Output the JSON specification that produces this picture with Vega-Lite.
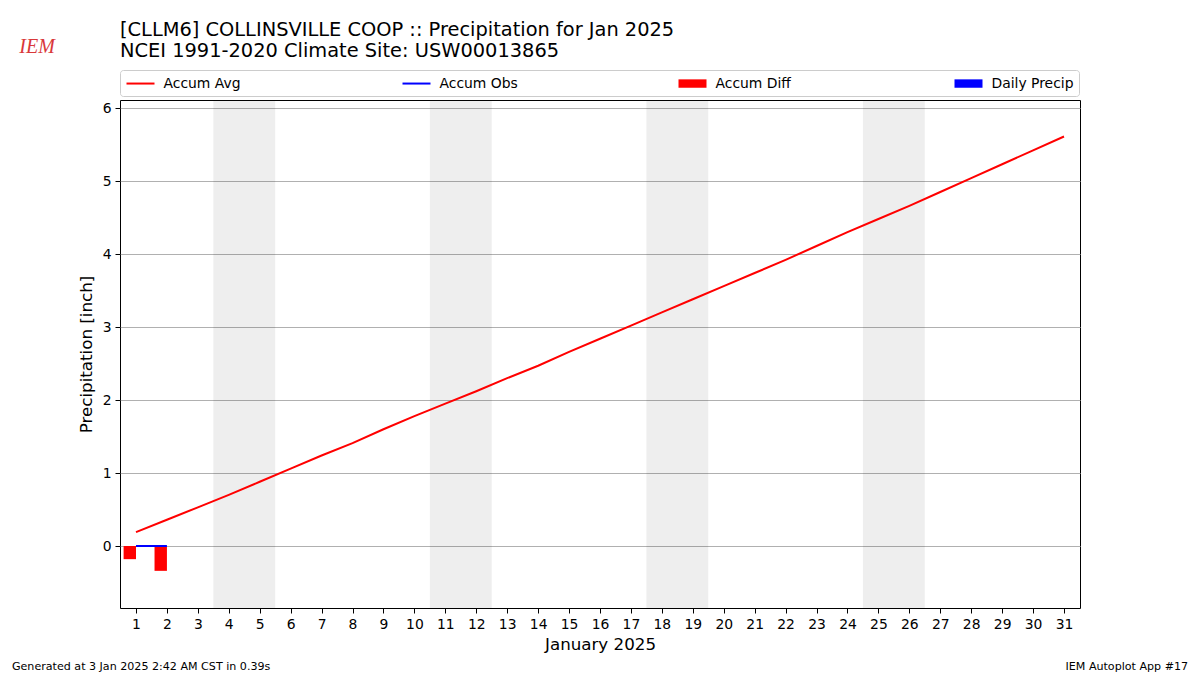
{
  "$schema": "https://vega.github.io/schema/vega-lite/v6.json",
  "autosize": {"type": "none"},
  "padding": {"left": 120, "top": 100, "right": 120, "bottom": 67},
  "width": 960,
  "height": 508,
  "background": "white",
  "title": {
    "text": ["[CLLM6] COLLINSVILLE COOP :: Precipitation for Jan 2025", "NCEI 1991-2020 Climate Site: USW00013865"],
    "anchor": "start",
    "frame": "group",
    "font": "DejaVu Sans",
    "fontSize": 19.4,
    "fontWeight": "normal",
    "color": "black",
    "lineHeight": 21.5,
    "offset": 7,
    "dy": 32
  },
  "config": {
    "view": {"stroke": "black", "strokeWidth": 1},
    "axis": {
      "labelFont": "DejaVu Sans",
      "labelFontSize": 13.9,
      "labelColor": "black",
      "titleFont": "DejaVu Sans",
      "titleFontSize": 16.7,
      "titleFontWeight": "normal",
      "titleColor": "black",
      "tickColor": "black",
      "tickSize": 5,
      "domain": false
    },
    "legend": {
      "labelFont": "DejaVu Sans",
      "labelFontSize": 13.9,
      "labelColor": "black"
    }
  },
  "datasets": {
    "daily": [
      {"day": 1, "accum_avg": 0.19},
      {"day": 2, "accum_avg": 0.36},
      {"day": 3, "accum_avg": 0.53},
      {"day": 4, "accum_avg": 0.70},
      {"day": 5, "accum_avg": 0.88},
      {"day": 6, "accum_avg": 1.06},
      {"day": 7, "accum_avg": 1.24},
      {"day": 8, "accum_avg": 1.41},
      {"day": 9, "accum_avg": 1.60},
      {"day": 10, "accum_avg": 1.78},
      {"day": 11, "accum_avg": 1.95},
      {"day": 12, "accum_avg": 2.12},
      {"day": 13, "accum_avg": 2.30},
      {"day": 14, "accum_avg": 2.47},
      {"day": 15, "accum_avg": 2.66},
      {"day": 16, "accum_avg": 2.84},
      {"day": 17, "accum_avg": 3.02},
      {"day": 18, "accum_avg": 3.20},
      {"day": 19, "accum_avg": 3.38},
      {"day": 20, "accum_avg": 3.56},
      {"day": 21, "accum_avg": 3.74},
      {"day": 22, "accum_avg": 3.92},
      {"day": 23, "accum_avg": 4.11},
      {"day": 24, "accum_avg": 4.30},
      {"day": 25, "accum_avg": 4.48},
      {"day": 26, "accum_avg": 4.66},
      {"day": 27, "accum_avg": 4.85},
      {"day": 28, "accum_avg": 5.04},
      {"day": 29, "accum_avg": 5.23},
      {"day": 30, "accum_avg": 5.42},
      {"day": 31, "accum_avg": 5.61}
    ],
    "obs": [
      {"day": 1, "accum_obs": 0, "accum_diff": -0.18, "daily_precip": 0},
      {"day": 2, "accum_obs": 0, "accum_diff": -0.34, "daily_precip": 0}
    ],
    "weekends": [
      {"start": 3.5, "end": 5.5},
      {"start": 10.5, "end": 12.5},
      {"start": 17.5, "end": 19.5},
      {"start": 24.5, "end": 26.5}
    ],
    "legend": [
      {"series": "Accum Avg", "day": 15, "value": -5},
      {"series": "Accum Obs", "day": 15, "value": -5},
      {"series": "Accum Diff", "day": 15, "value": -5},
      {"series": "Daily Precip", "day": 15, "value": -5}
    ],
    "notes": [
      {"label": "Generated at 3 Jan 2025 2:42 AM CST in 0.39s", "day": -3.01, "value": -1.70, "side": "left"},
      {"label": "IEM Autoplot App #17", "day": 35.01, "value": -1.70, "side": "right"},
      {"label": "IEM", "day": -2.77, "value": 6.76, "side": "logo"}
    ]
  },
  "encoding": {
    "x": {
      "field": "day",
      "type": "quantitative",
      "scale": {"domain": [0.483, 31.517], "nice": false, "zero": false, "padding": 0},
      "axis": {
        "title": "January 2025",
        "values": [1,2,3,4,5,6,7,8,9,10,11,12,13,14,15,16,17,18,19,20,21,22,23,24,25,26,27,28,29,30,31],
        "grid": false,
        "labelPadding": 4,
        "titlePadding": 6,
        "labelFlush": false,
        "labelOverlap": false
      }
    }
  },
  "layer": [
    {
      "data": {"name": "weekends"},
      "mark": {"type": "rect", "color": "black", "opacity": 0.067},
      "encoding": {
        "x": {"field": "start", "type": "quantitative"},
        "x2": {"field": "end"}
      }
    },
    {
      "data": {"name": "obs"},
      "mark": {"type": "bar", "color": "red", "width": 12.4, "xOffset": -6.2},
      "encoding": {
        "y": {
          "field": "accum_diff",
          "type": "quantitative",
          "scale": {"domain": [-0.849, 6.11], "nice": false, "zero": false, "padding": 0},
          "axis": {
            "title": "Precipitation [inch]",
            "values": [0,1,2,3,4,5,6],
            "format": "d",
            "grid": true,
            "gridColor": "#b0b0b0",
            "gridWidth": 1,
            "labelPadding": 4,
            "titlePadding": 7
          }
        },
        "y2": {"datum": 0}
      }
    },
    {
      "data": {"name": "obs"},
      "mark": {"type": "bar", "color": "blue", "width": 12.4, "xOffset": 6.2},
      "encoding": {
        "y": {"field": "daily_precip", "type": "quantitative"},
        "y2": {"datum": 0}
      }
    },
    {
      "data": {"name": "daily"},
      "mark": {"type": "line", "color": "red", "strokeWidth": 2},
      "encoding": {
        "y": {"field": "accum_avg", "type": "quantitative"}
      }
    },
    {
      "data": {"name": "obs"},
      "mark": {"type": "line", "color": "blue", "strokeWidth": 2},
      "encoding": {
        "y": {"field": "accum_obs", "type": "quantitative"}
      }
    },
    {
      "data": {"name": "legend"},
      "mark": {"type": "point", "filled": true, "clip": true, "opacity": 1},
      "encoding": {
        "y": {"field": "value", "type": "quantitative"},
        "color": {
          "field": "series",
          "type": "nominal",
          "scale": {"domain": ["Accum Avg", "Accum Obs", "Accum Diff", "Daily Precip"], "range": ["red", "blue", "red", "blue"]},
          "legend": {
            "title": null,
            "orient": "none",
            "legendX": 0,
            "legendY": -30,
            "direction": "horizontal",
            "columns": 4,
            "gridAlign": "all",
            "columnPadding": 156,
            "symbolSize": 196,
            "symbolOffset": 7,
            "labelOffset": 15,
            "padding": 5.5,
            "strokeColor": "#cccccc",
            "fillColor": "white",
            "cornerRadius": 3
          }
        },
        "shape": {
          "field": "series",
          "type": "nominal",
          "scale": {"domain": ["Accum Avg", "Accum Obs", "Accum Diff", "Daily Precip"], "range": ["M-2,-0.143H2V0.143H-2Z", "M-2,-0.143H2V0.143H-2Z", "M-2,-0.6H2V0.6H-2Z", "M-2,-0.6H2V0.6H-2Z"]},
          "legend": {"title": null}
        }
      }
    },
    {
      "data": {"name": "notes"},
      "transform": [{"filter": "datum.side === 'left'"}],
      "mark": {"type": "text", "align": "left", "baseline": "alphabetic", "font": "DejaVu Sans", "fontSize": 11.1, "color": "black"},
      "encoding": {
        "y": {"field": "value", "type": "quantitative"},
        "text": {"field": "label"}
      }
    },
    {
      "data": {"name": "notes"},
      "transform": [{"filter": "datum.side === 'right'"}],
      "mark": {"type": "text", "align": "right", "baseline": "alphabetic", "font": "DejaVu Sans", "fontSize": 11.1, "color": "black"},
      "encoding": {
        "y": {"field": "value", "type": "quantitative"},
        "text": {"field": "label"}
      }
    },
    {
      "data": {"name": "notes"},
      "transform": [{"filter": "datum.side === 'logo'"}],
      "mark": {"type": "text", "align": "left", "baseline": "alphabetic", "font": "Liberation Serif", "fontStyle": "italic", "fontSize": 20, "color": "#d9383a"},
      "encoding": {
        "y": {"field": "value", "type": "quantitative"},
        "text": {"field": "label"}
      }
    }
  ]
}
